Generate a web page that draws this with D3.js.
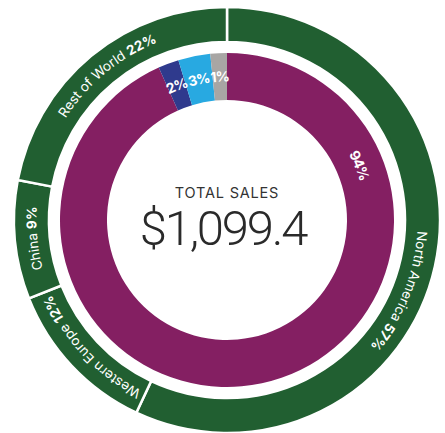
<!DOCTYPE html>
<html>
<head>
<meta charset="utf-8">
<script src="https://cdn.jsdelivr.net/npm/d3@7"></script>
<style>
  html, body { margin: 0; padding: 0; background: #fff; }
  svg { display: block; font-family: Inter, "Open Sans", sans-serif; }
</style>
</head>
<body>
<svg id="chart"></svg>
<script>
// outer ring: sales by region
const regions = ["North America", "Western Europe", "China", "Rest of World"];
const regionShares = [57, 12, 9, 22];
const regionLabels = ["57%", "12%", "9%", "22%"];

// inner ring: sales by segment (drawn share, printed label)
const segments = ["Main", "Segment B", "Segment C", "Other"];
const segmentShares = [93.3, 2.0, 3.1, 1.6];
const segmentLabels = ["94%", "2%", "3%", "1%"];
const segmentColors = ["#841f62", "#2f3a8d", "#28a9e1", "#a8a6a4"];

const centerTitle = "TOTAL SALES";
const centerValue = "$1,099.4";

const width = 445;
const height = 433;
const cx = 227, cy = 220;

const svg = d3.select("#chart")
  .attr("width", width)
  .attr("height", height);

const g = svg.append("g").attr("transform", `translate(${cx},${cy})`);

const pie = d3.pie().sort(null).value((d) => d.value);

// outer ring
const outerData = pie(regions.map((name, i) => ({ name, value: regionShares[i], label: regionLabels[i] })));
const outerArc = d3.arc().innerRadius(178).outerRadius(213);

g.append("g")
  .selectAll("path")
  .data(outerData)
  .enter()
  .append("path")
  .attr("d", outerArc)
  .attr("fill", "#215f31")
  .attr("stroke", "#fff")
  .attr("stroke-width", 2.5);

// inner ring
const innerData = pie(segments.map((name, i) => ({ name, value: segmentShares[i], label: segmentLabels[i] })));
const innerArc = d3.arc().innerRadius(120).outerRadius(167);

g.append("g")
  .selectAll("path")
  .data(innerData)
  .enter()
  .append("path")
  .attr("d", innerArc)
  .attr("fill", (d, i) => segmentColors[i]);

// clockwise guide path for curved labels
function guide(r, a0, a1) {
  const p = d3.path();
  p.arc(0, 0, r, a0 - Math.PI / 2, a1 - Math.PI / 2, false);
  return p.toString();
}

const defs = svg.append("defs");

// region labels (centered, North America nudged like the original)
const regionNudge = [0.17, 0, 0, 0];
outerData.forEach((d, i) => {
  const mid = (d.startAngle + d.endAngle) / 2 + regionNudge[i];
  defs.append("path")
    .attr("id", "outer-guide-" + i)
    .attr("d", guide(195.5, mid - Math.PI, mid + Math.PI));
  const t = g.append("text")
    .attr("fill", "#fff")
    .attr("font-size", 13.5)
    .attr("letter-spacing", 0.2)
    .attr("dy", "0.36em")
    .append("textPath")
    .attr("href", "#outer-guide-" + i)
    .attr("startOffset", "50%")
    .attr("text-anchor", "middle");
  t.append("tspan").text(d.data.name + " ");
  t.append("tspan").attr("font-weight", 700).text(d.data.label);
});

// segment labels
const segmentAngle = [1.18, null, null, null];
innerData.forEach((d, i) => {
  const mid = segmentAngle[i] != null ? segmentAngle[i] : (d.startAngle + d.endAngle) / 2;
  defs.append("path")
    .attr("id", "inner-guide-" + i)
    .attr("d", guide(143.5, mid - Math.PI, mid + Math.PI));
  g.append("text")
    .attr("fill", "#fff")
    .attr("font-size", 14)
    .attr("font-weight", 700)
    .attr("letter-spacing", -0.7)
    .attr("dy", "0.36em")
    .append("textPath")
    .attr("href", "#inner-guide-" + i)
    .attr("startOffset", "50%")
    .attr("text-anchor", "middle")
    .text(d.data.label);
});

// center text
g.append("text")
  .attr("text-anchor", "middle")
  .attr("y", -22)
  .attr("fill", "#333")
  .attr("font-size", 14.5)
  .attr("letter-spacing", 0.8)
  .text(centerTitle);

g.append("text")
  .attr("text-anchor", "middle")
  .attr("x", -4)
  .attr("y", 25)
  .attr("fill", "#2a2a2a")
  .attr("font-family", "Roboto, sans-serif")
  .attr("font-size", 49)
  .attr("font-weight", 300)
  .attr("letter-spacing", -2.2)
  .text(centerValue);
</script>
</body>
</html>
